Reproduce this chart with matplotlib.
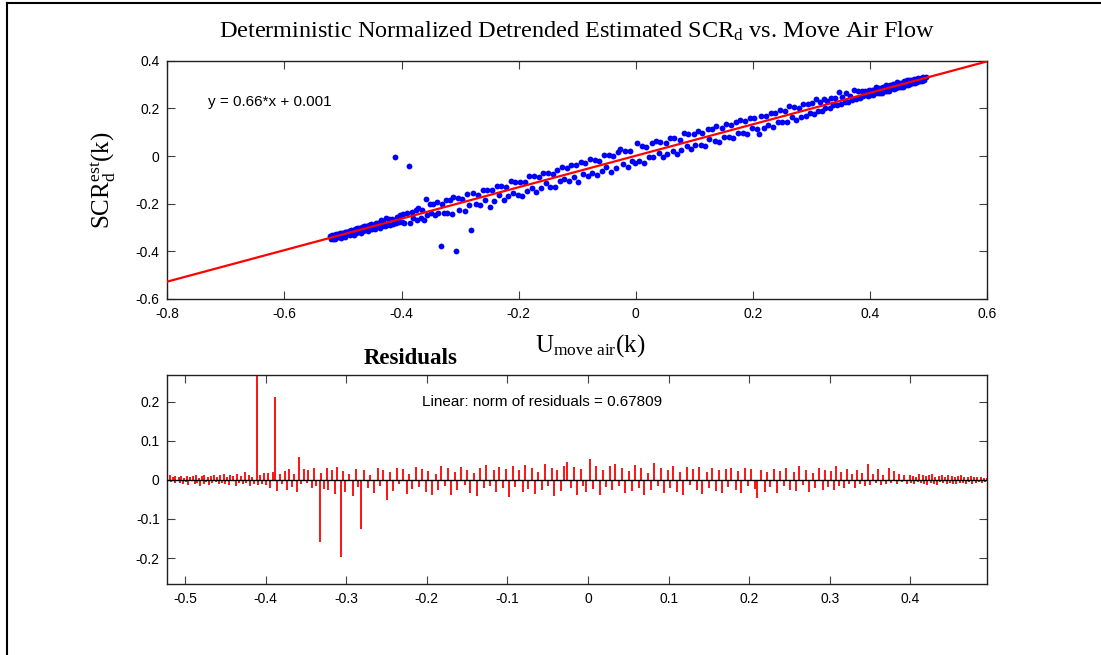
import matplotlib
matplotlib.use("Agg")
import matplotlib.pyplot as plt
import numpy as np
from matplotlib.lines import Line2D

# Fonts: MATLAB-ish look (Helvetica ticks, Times labels)
plt.rcParams['font.family'] = ['Liberation Sans', 'DejaVu Sans']
plt.rcParams['axes.unicode_minus'] = False
plt.rcParams['mathtext.fontset'] = 'custom'
plt.rcParams['mathtext.rm'] = 'Liberation Serif'
plt.rcParams['mathtext.it'] = 'Liberation Serif:italic'
plt.rcParams['mathtext.bf'] = 'Liberation Serif:bold'

# Linear fit shown on the chart
FIT_SLOPE = 0.66
FIT_INTERCEPT = 0.001
NORM_OF_RESIDUALS = 0.67809

# Move-air-flow samples (x), sorted
x_left_end = [
    -0.522, -0.520, -0.519, -0.517, -0.515, -0.513, -0.512, -0.510, -0.508, -0.506,
    -0.505, -0.503, -0.501, -0.499, -0.497, -0.496, -0.494, -0.492, -0.490, -0.488,
    -0.487, -0.485, -0.483, -0.481, -0.479, -0.477, -0.476, -0.474, -0.472, -0.470,
    -0.468, -0.466, -0.464, -0.462, -0.460, -0.458, -0.456, -0.454, -0.452, -0.450,
    -0.448, -0.446, -0.444, -0.442, -0.440, -0.437, -0.435, -0.433, -0.431, -0.428,
    -0.426, -0.424, -0.421, -0.419, -0.417, -0.414, -0.411, -0.409, -0.407, -0.404,
    -0.402, -0.400]
x_left_mid = [
    -0.397, -0.395, -0.391, -0.388, -0.386, -0.382, -0.380, -0.376, -0.373, -0.371,
    -0.367, -0.365, -0.361, -0.358, -0.356, -0.352, -0.349, -0.347, -0.343, -0.340,
    -0.338, -0.333, -0.331, -0.327, -0.324, -0.322, -0.318, -0.314, -0.312, -0.307]
x_center = [
    -0.304, -0.301, -0.297, -0.292, -0.288, -0.285, -0.282, -0.278, -0.273, -0.270,
    -0.266, -0.261, -0.258, -0.254, -0.249, -0.246, -0.242, -0.237, -0.234, -0.230,
    -0.225, -0.222, -0.218, -0.213, -0.210, -0.206, -0.201, -0.198, -0.194, -0.189,
    -0.186, -0.182, -0.177, -0.174, -0.170, -0.165, -0.162, -0.158, -0.153, -0.150,
    -0.146, -0.141, -0.138, -0.134, -0.129, -0.126, -0.122, -0.117, -0.114, -0.110,
    -0.105, -0.102, -0.098, -0.093, -0.090, -0.086, -0.081, -0.078, -0.074, -0.069,
    -0.066, -0.062, -0.057, -0.054, -0.050, -0.045, -0.042, -0.038, -0.033, -0.030,
    -0.026, -0.021, -0.018, -0.014, -0.009, -0.006, -0.002, 0.003, 0.006, 0.010,
    0.015, 0.018, 0.022, 0.027, 0.030, 0.034, 0.039, 0.042, 0.046, 0.051,
    0.054, 0.058, 0.063, 0.066, 0.070, 0.075, 0.078, 0.082, 0.087, 0.090,
    0.094, 0.099, 0.102, 0.106, 0.111, 0.114, 0.118, 0.123, 0.126, 0.130,
    0.135, 0.138, 0.142, 0.147, 0.150, 0.154, 0.159, 0.162, 0.166, 0.171,
    0.174, 0.178, 0.183, 0.186, 0.190, 0.195, 0.198, 0.202, 0.207, 0.210,
    0.214, 0.219, 0.222, 0.226, 0.231, 0.234, 0.238, 0.243, 0.246, 0.250,
    0.255, 0.258, 0.262, 0.267, 0.270, 0.274, 0.279, 0.282, 0.286, 0.291,
    0.294, 0.298]
x_right_mid = [
    0.301, 0.305, 0.308, 0.311, 0.314, 0.318, 0.321, 0.324, 0.327, 0.331,
    0.334, 0.337, 0.340, 0.344, 0.347, 0.350, 0.353, 0.357, 0.360, 0.363,
    0.366, 0.370, 0.373, 0.376, 0.379, 0.383, 0.386, 0.389, 0.392, 0.396]
x_right_end = [
    0.399, 0.401, 0.403, 0.405, 0.407, 0.409, 0.411, 0.413, 0.415, 0.417,
    0.419, 0.421, 0.423, 0.425, 0.427, 0.429, 0.431, 0.433, 0.435, 0.437,
    0.439, 0.441, 0.443, 0.445, 0.447, 0.449, 0.451, 0.453, 0.455, 0.457,
    0.459, 0.461, 0.463, 0.465, 0.467, 0.469, 0.471, 0.473, 0.475, 0.477,
    0.479, 0.481, 0.483, 0.485, 0.487, 0.489, 0.491, 0.493, 0.495]

# Residuals (same order as x)
r_left_end = [
    0.008, -0.004, 0.011, -0.006, 0.007, -0.009, 0.010, -0.003, 0.006, -0.008,
    0.009, -0.011, 0.005, -0.006, 0.010, -0.013, 0.008, -0.004, 0.009, -0.012,
    0.011, -0.007, 0.004, -0.015, 0.009, -0.010, 0.012, -0.005, 0.008, -0.014,
    0.010, -0.009, 0.013, -0.006, 0.007, -0.012, 0.011, -0.008, 0.014, -0.010,
    0.006, -0.013, 0.012, -0.004, 0.009, -0.015, 0.016, -0.007, 0.010, -0.012,
    0.020, -0.009, 0.013, -0.016, 0.008, -0.011, 0.267, -0.014, 0.012, -0.010,
    0.017, -0.013]
r_left_mid = [
    0.018, -0.020, 0.019, 0.212, -0.028, 0.015, -0.012, 0.022, -0.025, 0.027,
    -0.018, 0.014, -0.030, 0.057, -0.012, 0.028, -0.008, 0.025, -0.022, 0.031,
    -0.015, -0.160, 0.018, -0.024, 0.030, -0.027, 0.025, -0.036, 0.032, -0.197]
r_center = [
    0.022, -0.030, 0.015, -0.041, 0.028, -0.018, -0.126, 0.026, -0.022, 0.012,
    -0.033, 0.030, -0.015, 0.024, -0.052, 0.019, -0.028, 0.031, -0.012, 0.027,
    -0.036, 0.016, -0.024, 0.033, -0.019, 0.028, -0.031, 0.022, -0.040, 0.014,
    -0.025, 0.035, -0.017, 0.029, -0.038, 0.021, -0.027, 0.032, -0.014, 0.026,
    -0.034, 0.018, -0.041, 0.030, -0.022, 0.037, -0.016, 0.024, -0.030, 0.033,
    -0.020, 0.027, -0.044, 0.035, -0.018, 0.025, -0.032, 0.038, -0.023, 0.029,
    -0.037, 0.020, -0.026, 0.040, -0.015, 0.031, -0.042, 0.024, -0.029, 0.036,
    0.045, -0.021, 0.033, -0.038, 0.027, -0.016, -0.030, 0.052, -0.024, 0.035,
    -0.040, 0.026, -0.019, 0.034, -0.027, 0.041, -0.015, 0.029, -0.035, 0.022,
    -0.028, 0.037, -0.022, 0.030, -0.039, 0.018, -0.026, 0.043, -0.017, 0.031,
    -0.033, 0.025, -0.020, 0.036, -0.030, 0.021, -0.038, 0.032, -0.014, 0.027,
    -0.025, 0.033, -0.036, 0.019, -0.021, 0.030, -0.028, 0.024, -0.033, 0.028,
    -0.018, 0.031, -0.026, 0.022, -0.034, 0.029, -0.015, 0.027, -0.023, -0.046,
    0.026, -0.030, 0.020, -0.019, 0.028, -0.035, 0.023, -0.017, 0.030, -0.025,
    0.021, -0.029, 0.034, -0.014, 0.026, -0.031, 0.018, -0.022, 0.029, -0.026,
    0.024, -0.019]
r_right_mid = [
    0.022, -0.025, 0.035, -0.016, 0.019, -0.022, 0.028, -0.012, 0.016, -0.020,
    0.024, -0.010, 0.018, -0.015, 0.040, -0.013, 0.014, -0.009, 0.027, -0.014,
    0.011, -0.012, 0.030, -0.008, 0.022, -0.011, 0.015, -0.006, 0.012, -0.010]
r_right_end = [
    0.013, -0.008, 0.010, -0.012, 0.007, -0.006, 0.016, -0.009, 0.012, -0.011,
    0.009, -0.014, 0.011, -0.007, 0.014, -0.010, 0.008, -0.013, 0.010, -0.006,
    0.012, -0.009, 0.007, -0.011, 0.013, -0.008, 0.009, -0.010, 0.006, -0.012,
    0.010, -0.007, 0.011, -0.009, 0.008, -0.010, 0.007, -0.006, 0.009, -0.011,
    0.006, -0.008, 0.008, -0.005, 0.007, -0.009, 0.005, -0.006, 0.004]

# Axis ticks
top_xticks = [-0.8, -0.6, -0.4, -0.2, 0, 0.2, 0.4, 0.6]
top_yticks = [-0.6, -0.4, -0.2, 0, 0.2, 0.4]
res_xticks = [-0.5, -0.4, -0.3, -0.2, -0.1, 0, 0.1, 0.2, 0.3, 0.4]
res_yticks = [-0.2, -0.1, 0, 0.1, 0.2]

x_air = np.array(x_left_end + x_left_mid + x_center + x_right_mid + x_right_end)
resid = np.array(r_left_end + r_left_mid + r_center + r_right_mid + r_right_end)
scr_est = FIT_SLOPE * x_air + FIT_INTERCEPT + resid

W, H = 1101, 655
fig = plt.figure(figsize=(W / 100, H / 100), dpi=100)
fig.patch.set_facecolor('white')


def px_box(left, top, right, bottom):
    return [left / W, 1 - bottom / H, (right - left) / W, (bottom - top) / H]


def style_axes(ax):
    for s in ax.spines.values():
        s.set_linewidth(1.0)
        s.set_color('#202020')
    ax.tick_params(direction='in', top=True, right=True, length=5.8,
                   width=0.8, color='#404040', labelsize=10, pad=5.5)
    ax.xaxis.set_major_formatter(plt.FuncFormatter(lambda v, p: f'{v:g}'))
    ax.yaxis.set_major_formatter(plt.FuncFormatter(lambda v, p: f'{v:g}'))


# --- upper panel: data + fit ---
ax1 = fig.add_axes(px_box(167.3, 60.7, 987, 299))
ax1.plot(x_air, scr_est, 'o', color='blue', ms=4.2, mew=0, zorder=2)
xl = np.array([top_xticks[0], top_xticks[-1]])
ax1.plot(xl, FIT_SLOPE * xl + FIT_INTERCEPT, color='red', lw=1.6, zorder=3)
ax1.set_xlim(top_xticks[0], top_xticks[-1])
ax1.set_ylim(top_yticks[0], top_yticks[-1])
ax1.set_xticks(top_xticks)
ax1.set_yticks(top_yticks)
style_axes(ax1)

# --- lower panel: residuals ---
ax2 = fig.add_axes(px_box(167.3, 375.3, 987, 584.3))
ax2.vlines(x_air, 0, resid, color='red', lw=1.3, zorder=2)
ax2.axhline(0, color='black', lw=1.0, zorder=3)
rmax = np.abs(resid).max()
ax2.set_xlim(x_air.min(), x_air.max())
ax2.set_ylim(-rmax, rmax)
ax2.set_xticks(res_xticks)
ax2.set_yticks(res_yticks)
style_axes(ax2)

# Text
serif = 'Liberation Serif'
fig.text(577 / W, 1 - 31 / H,
         r'Deterministic Normalized Detrended Estimated SCR$_{\rm d}$ vs. Move Air Flow',
         family=serif, fontsize=17.5, ha='center', va='center')
fig.text(103 / W, 1 - 180 / H, r'SCR$_{\rm d}^{\rm est}$(k)', family=serif,
         fontsize=18, rotation=90, ha='center', va='center')
fig.text(590 / W, 1 - 352 / H, r'U$_{\rm move\ air}$(k)', family=serif,
         fontsize=18, ha='center', va='baseline')
fig.text(458 / W, 1 - 364 / H, 'Residuals', family=serif, fontweight='bold',
         fontsize=16.5, ha='right', va='baseline')
fig.text(208 / W, 1 - 101.7 / H, f'y = {FIT_SLOPE:g}*x + {FIT_INTERCEPT:g}',
         fontsize=11, ha='left', va='center')
fig.text(422 / W, 1 - 402 / H, f'Linear: norm of residuals = {NORM_OF_RESIDUALS:g}',
         fontsize=11, ha='left', va='center')

# Figure frame (top and left edges visible in the original)
fig.add_artist(Line2D([6.7 / W, 6.7 / W], [1 - 3.3 / H, 0], transform=fig.transFigure,
                      color='black', lw=1.5))
fig.add_artist(Line2D([6.7 / W, 1], [1 - 3.3 / H, 1 - 3.3 / H], transform=fig.transFigure,
                      color='black', lw=1.5))

fig.savefig('out.png', dpi=100, facecolor='white')
